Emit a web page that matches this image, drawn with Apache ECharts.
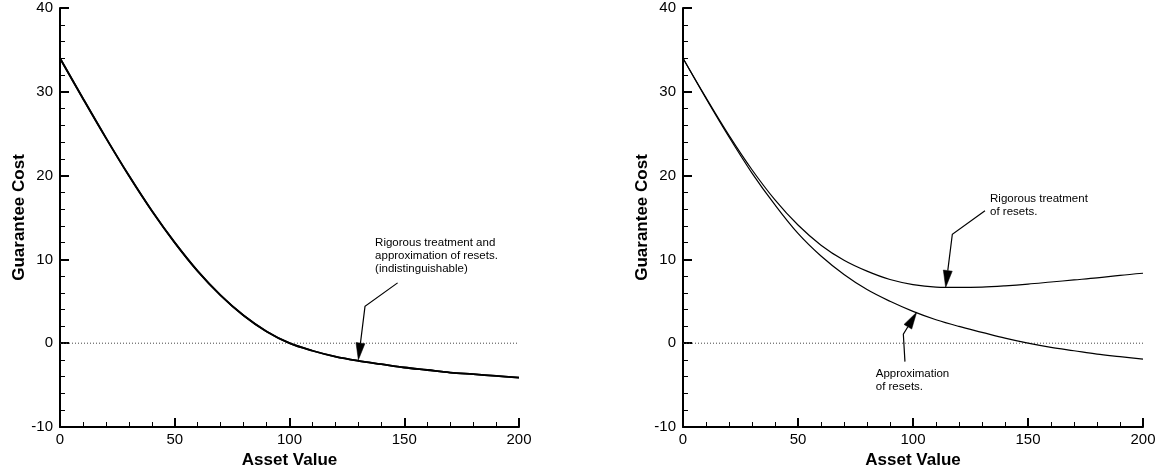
<!DOCTYPE html>
<html>
<head>
<meta charset="utf-8">
<script src="https://cdn.jsdelivr.net/npm/echarts@6/dist/echarts.min.js"></script>
<style>
html,body{margin:0;padding:0;background:#fff;}
#c{width:1161px;height:470px;}
</style>
</head>
<body>
<div id="c"></div>
<script>
// ---- data ----
var assetValues = [0,10,20,30,40,50,60,70,80,90,100,110,120,130,140,150,160,170,180,190,200];
var leftRigorous = [34,29.2,24.5,20.0,15.8,12.0,8.6,5.7,3.3,1.4,0,-0.9,-1.6,-2.1,-2.5,-2.9,-3.2,-3.5,-3.7,-3.9,-4.1];
var leftApprox   = [34,29.2,24.5,20.0,15.8,12.0,8.6,5.7,3.3,1.4,0,-0.9,-1.6,-2.1,-2.5,-2.9,-3.2,-3.5,-3.7,-3.9,-4.1];
var rightRigorous = [34,29.3,24.8,20.7,17.1,14.1,11.7,9.9,8.6,7.6,7.0,6.7,6.65,6.7,6.85,7.05,7.3,7.55,7.8,8.1,8.35];
var rightApprox   = [34,29.2,24.6,20.3,16.5,13.1,10.4,8.2,6.4,5.0,3.8,2.8,2.0,1.3,0.6,0.0,-0.5,-0.9,-1.3,-1.6,-1.9];
var xTicks = [0,50,100,150,200];
var yTicks = [-10,0,10,20,30,40];
var xName = 'Asset Value';
var yName = 'Guarantee Cost';
var leftNote = 'Rigorous treatment and\napproximation of resets.\n(indistinguishable)';
var rightNoteUpper = 'Rigorous treatment\nof resets.';
var rightNoteLower = 'Approximation\nof resets.';

function pairs(xs, ys){ return xs.map(function(x,i){ return [x, ys[i]]; }); }

var FONT = 'Liberation Sans, Arial, sans-serif';
function xAxisCfg(gi){
  return {
    gridIndex: gi, type:'value', min:xTicks[0], max:xTicks[xTicks.length-1], interval:50,
    name: xName, nameLocation:'middle', nameGap: 19,
    nameTextStyle:{fontFamily:FONT, fontWeight:'bold', fontSize:17, color:'#000'},
    axisLine:{show:true, onZero:false, lineStyle:{color:'#000', width:2}},
    axisTick:{show:true, inside:true, length:9, lineStyle:{color:'#000', width:2}},
    minorTick:{show:true, splitNumber:5, length:5, lineStyle:{color:'#000', width:1}},
    splitLine:{show:false},
    axisLabel:{fontFamily:FONT, fontSize:15, color:'#000', margin:5, showMinLabel:true, showMaxLabel:true}
  };
}
function yAxisCfg(gi){
  return {
    gridIndex: gi, type:'value', min:yTicks[0], max:yTicks[yTicks.length-1], interval:10,
    name: yName, nameLocation:'middle', nameGap: 32,
    nameTextStyle:{fontFamily:FONT, fontWeight:'bold', fontSize:17, color:'#000'},
    axisLine:{show:true, onZero:false, lineStyle:{color:'#000', width:2}},
    axisTick:{show:true, inside:true, length:9, lineStyle:{color:'#000', width:2}},
    minorTick:{show:true, splitNumber:5, length:5, lineStyle:{color:'#000', width:1}},
    splitLine:{show:false},
    axisLabel:{fontFamily:FONT, fontSize:15, color:'#000', margin:7, showMinLabel:true, showMaxLabel:true}
  };
}
function curve(gi, ys, w){
  return {type:'line', xAxisIndex:gi, yAxisIndex:gi, data:pairs(assetValues, ys), smooth:0.35,
    showSymbol:false, lineStyle:{color:'#000', width:w}, silent:true, z:3};
}
function zeroLine(gi){
  return {type:'line', xAxisIndex:gi, yAxisIndex:gi, data:[[0,0],[200,0]], showSymbol:false,
    lineStyle:{color:'#444', width:1, type:[1,2]}, silent:true, z:2};
}

var chart = echarts.init(document.getElementById('c'), null, {renderer:'canvas'});
chart.setOption({
  animation:false,
  backgroundColor:'#fff',
  grid:[
    {left:60, top:8, width:459, height:419, containLabel:false, outerBoundsMode:'none'},
    {left:683, top:8, width:460, height:419, containLabel:false, outerBoundsMode:'none'}
  ],
  xAxis:[xAxisCfg(0), xAxisCfg(1)],
  yAxis:[yAxisCfg(0), yAxisCfg(1)],
  series:[
    zeroLine(0), zeroLine(1),
    curve(0, leftRigorous, 1.8), curve(0, leftApprox, 1.8),
    curve(1, rightRigorous, 1.2), curve(1, rightApprox, 1.2)
  ]
});

// ---- annotations (positions in data coordinates) ----
var notes = [
  {gi:0, text:leftNote, at:[137.3, 12.7], path:[[147.1,7.2],[132.9,4.4],[130,-2.0]]},
  {gi:1, text:rightNoteUpper, at:[133.5, 18.0], path:[[131.3,15.8],[117.1,13.0],[114.2,6.65]]},
  {gi:1, text:rightNoteLower, at:[83.8, -2.9], path:[[96.5,-2.2],[95.8,1.07],[101.6,3.7]]}
];
var gfx = [];
notes.forEach(function(n){
  var finder = {gridIndex:n.gi};
  var pts = n.path.map(function(p){ return chart.convertToPixel(finder, p); });
  var tp = chart.convertToPixel(finder, n.at);
  gfx.push({type:'text', x:tp[0], y:tp[1], style:{text:n.text, fill:'#000', font:'11.5px '+FONT, lineHeight:13, textVerticalAlign:'top'}, z:10});
  var tip = pts[pts.length-1], prev = pts[pts.length-2];
  var dx = tip[0]-prev[0], dy = tip[1]-prev[1], L = Math.sqrt(dx*dx+dy*dy);
  var ux = dx/L, uy = dy/L, alen = 17, hw = 4.5;
  var bx = tip[0]-ux*alen, by = tip[1]-uy*alen;
  var linePts = pts.slice(0, pts.length-1).concat([[bx,by]]);
  gfx.push({type:'polyline', shape:{points:linePts}, style:{stroke:'#000', lineWidth:1.2, fill:null}, z:10});
  gfx.push({type:'polygon', shape:{points:[tip,[bx-uy*hw, by+ux*hw],[bx+uy*hw, by-ux*hw]]}, style:{fill:'#000', stroke:'#000', lineWidth:0.5}, z:10});
});
chart.setOption({graphic:gfx});
</script>
</body>
</html>
